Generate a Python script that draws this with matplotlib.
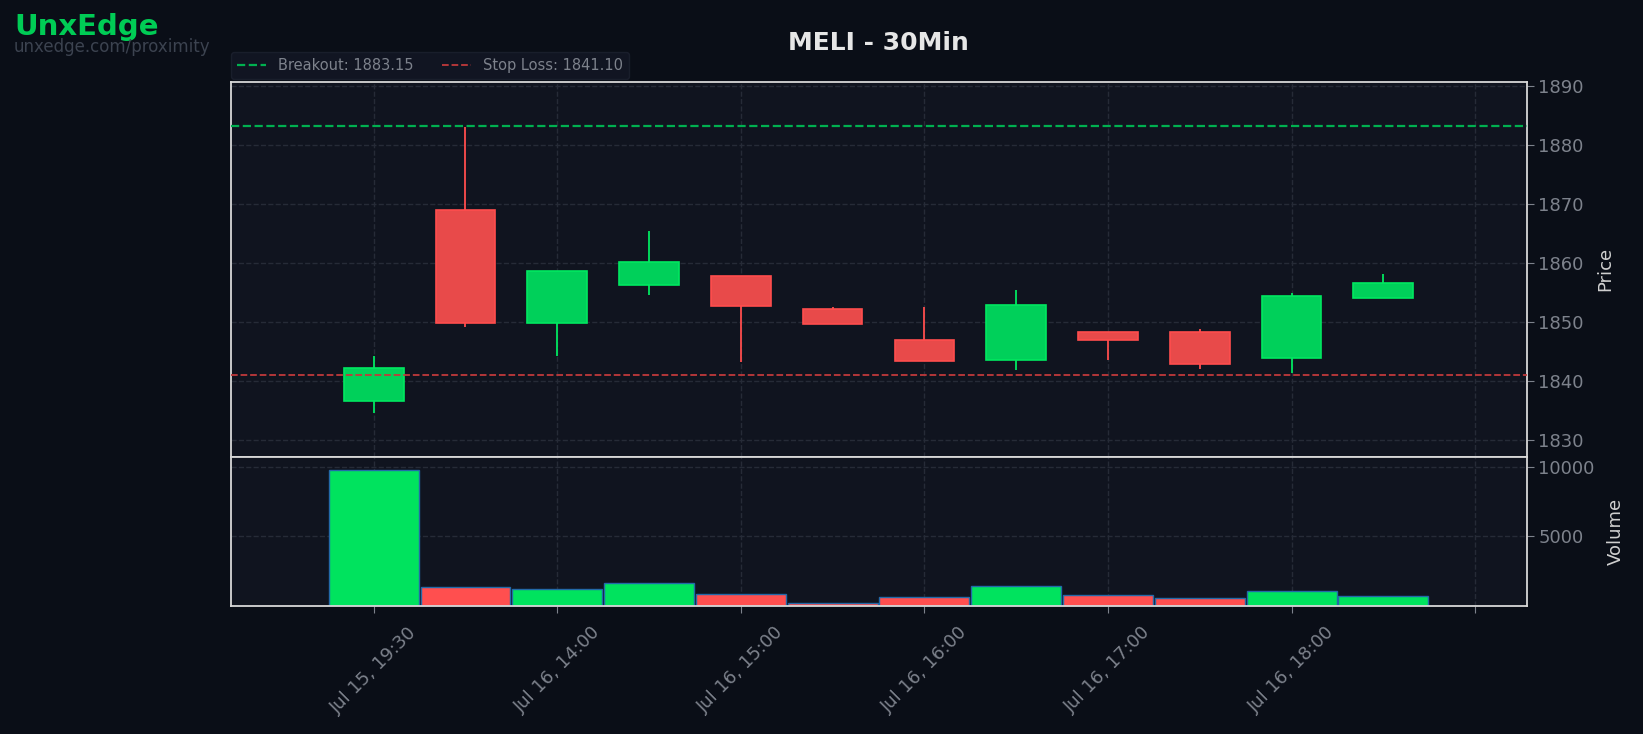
import matplotlib.pyplot as plt
import numpy as np

# 30-minute candles, MELI
times = ['Jul 15, 19:30', 'Jul 16, 13:30', 'Jul 16, 14:00', 'Jul 16, 14:30',
         'Jul 16, 15:00', 'Jul 16, 15:30', 'Jul 16, 16:00', 'Jul 16, 16:30',
         'Jul 16, 17:00', 'Jul 16, 17:30', 'Jul 16, 18:00', 'Jul 16, 18:30']
opens = [1836.6, 1869.0, 1849.8, 1856.3, 1857.8, 1852.3, 1846.9, 1843.5, 1848.4, 1848.4, 1843.9, 1854.1]
highs = [1844.3, 1883.0, 1858.7, 1865.4, 1857.8, 1852.5, 1852.6, 1855.5, 1848.4, 1848.9, 1854.9, 1858.1]
lows = [1834.6, 1849.2, 1844.2, 1854.6, 1843.2, 1849.6, 1843.4, 1841.9, 1843.6, 1842.0, 1841.3, 1854.1]
closes = [1842.2, 1849.8, 1858.7, 1860.2, 1852.7, 1849.6, 1843.4, 1852.9, 1847.0, 1842.9, 1854.4, 1856.6]
volumes = [9750, 1310, 1170, 1620, 830, 160, 620, 1400, 760, 520, 1050, 690]

breakout = 1883.15
stop_loss = 1841.10

BG = '#0a0e17'
PANEL = '#10141f'
GREEN = '#00d05a'
RED = '#e84a4a'
VGREEN = '#00e35e'
VRED = '#ff4f4f'
GRID = '#262b37'
TXT = '#7d828c'

fig = plt.figure(figsize=(16.43, 7.34), dpi=100, facecolor=BG)
ax = fig.add_axes([0.1403, 0.3777, 0.7888, 0.5110])
axv = fig.add_axes([0.1403, 0.1749, 0.7888, 0.2028], sharex=ax)

x = np.arange(len(times))
for i in x:
    up = closes[i] >= opens[i]
    col = GREEN if up else RED
    edge = '#00e860' if up else '#ff4d4d'
    lo, hi = min(opens[i], closes[i]), max(opens[i], closes[i])
    ax.vlines(i, lows[i], highs[i], color=edge, linewidth=1.3, zorder=2)
    ax.bar(i, hi - lo, bottom=lo, width=0.65, color=col, edgecolor=edge, linewidth=1.2, zorder=3)

ax.axhline(breakout, color='#00b050', linestyle='--', linewidth=1.6, label=f'Breakout: {breakout:.2f}', zorder=4)
ax.axhline(stop_loss, color='#c0393b', linestyle='--', linewidth=1.3, label=f'Stop Loss: {stop_loss:.2f}', zorder=4)

vcols = [VGREEN if c >= o else VRED for o, c in zip(opens, closes)]
axv.bar(x, volumes, width=0.98, color=vcols, edgecolor='#2369a8', linewidth=1.0)

for a in (ax, axv):
    a.set_facecolor(PANEL)
    a.grid(True, color=GRID, linestyle='--', linewidth=1.0)
    a.set_axisbelow(True)
    a.yaxis.tick_right()
    a.yaxis.set_label_position('right')
    for s in a.spines.values():
        s.set_color('#d8d8d8')
        s.set_linewidth(1.3)
    a.tick_params(colors=TXT, labelsize=13, length=5)

ax.set_xlim(-1.56, 12.56)
ax.set_ylim(1827.2, 1890.7)
ax.set_yticks([1830, 1840, 1850, 1860, 1870, 1880, 1890])
axv.set_ylim(0, max(volumes) * 1.1)
axv.set_yticks([5000, 10000])
ax.tick_params(axis='x', labelbottom=False, length=0)

ticks = np.arange(0, 13, 2)
axv.set_xticks(ticks)
axv.set_xticklabels([times[t] if t < len(times) else '' for t in ticks],
                    rotation=45, fontsize=13)
axv.tick_params(axis='x', pad=8)

ax.set_ylabel('Price', color='#d0d0d0', fontsize=13, labelpad=9)
axv.set_ylabel('Volume', color='#d0d0d0', fontsize=13, labelpad=9)
ax.set_title('MELI - 30Min', color='#e6e6e6', fontsize=18, fontweight='bold', pad=23)

leg = ax.legend(loc='lower left', bbox_to_anchor=(-0.002, 1.0), ncol=2, fontsize=10.5,
                frameon=True, facecolor='#131825', edgecolor='#1d2230',
                labelcolor=TXT, borderaxespad=0.2, columnspacing=2.0)

fig.text(0.009, 0.963, 'UnxEdge', color='#00cc55', fontsize=21, fontweight='bold', va='center')
fig.text(0.008, 0.936, 'unxedge.com/proximity', color='#3c4350', fontsize=12, va='center')

fig.savefig('out.png', dpi=100, facecolor=BG)
